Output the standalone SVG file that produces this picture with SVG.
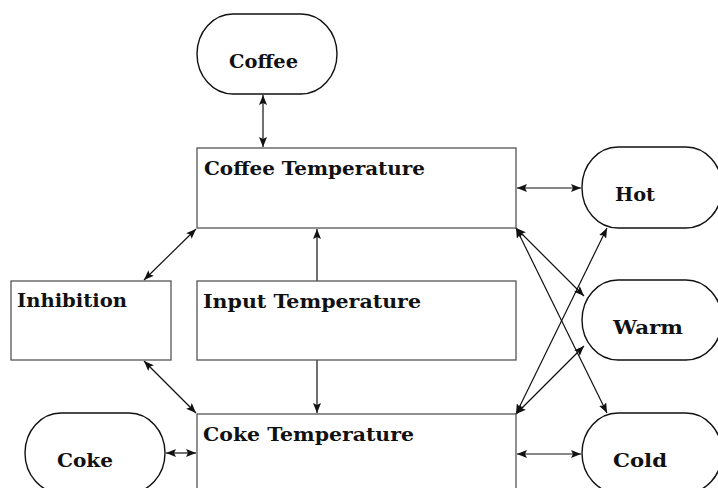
<svg xmlns="http://www.w3.org/2000/svg" width="718" height="488" viewBox="0 0 718 488">
<style>
.box{fill:#fff;stroke:#555;stroke-width:1.3}
.oval{fill:#fff;stroke:#111;stroke-width:1.4}
.t{font-family:"DejaVu Serif","Liberation Serif",serif;font-weight:bold;font-size:18px;fill:#111}
.c{stroke:#111;stroke-width:1.2;fill:none;marker-start:url(#a);marker-end:url(#a)}
.s{stroke:#111;stroke-width:1.2;fill:none;marker-end:url(#a)}
</style>
<defs>
<marker id="a" viewBox="0 0 10 8" refX="10" refY="4" markerWidth="10" markerHeight="8" markerUnits="userSpaceOnUse" orient="auto-start-reverse">
<path d="M0,0 L10,4 L0,8 L2,4 Z" fill="#111"/>
</marker>
</defs>
<rect width="718" height="488" fill="#fff"/>
<g id="connectors">
<line class="c" x1="263" y1="95" x2="263" y2="147"/>
<line class="c" x1="517" y1="188" x2="581" y2="188"/>
<line class="c" x1="166" y1="453" x2="196" y2="453"/>
<line class="c" x1="517" y1="454" x2="581" y2="454"/>
<line class="c" x1="144" y1="280" x2="196" y2="229"/>
<line class="c" x1="144" y1="361" x2="196" y2="413"/>
<line class="s" x1="317" y1="281" x2="317" y2="229"/>
<line class="s" x1="317" y1="360" x2="317" y2="413"/>
<line class="c" x1="516" y1="228" x2="584" y2="296"/>
<line class="c" x1="516" y1="228" x2="607" y2="413"/>
<line class="c" x1="516" y1="414" x2="607" y2="228"/>
<line class="c" x1="516" y1="414" x2="584" y2="346"/>
</g>
<g id="coffee">
<rect class="oval" x="197" y="14" width="140" height="80" rx="36" ry="40"/>
<text class="t" x="229" y="68" textLength="69" lengthAdjust="spacingAndGlyphs">Coffee</text>
</g>
<g id="coffee-temperature">
<rect class="box" x="197" y="148" width="319" height="80"/>
<text class="t" x="204" y="175" textLength="221" lengthAdjust="spacingAndGlyphs">Coffee Temperature</text>
</g>
<g id="inhibition">
<rect class="box" x="11" y="281" width="160" height="79"/>
<text class="t" x="17" y="307" textLength="110" lengthAdjust="spacingAndGlyphs">Inhibition</text>
</g>
<g id="input-temperature">
<rect class="box" x="197" y="281" width="319" height="79"/>
<text class="t" x="203" y="308" textLength="218" lengthAdjust="spacingAndGlyphs">Input Temperature</text>
</g>
<g id="coke-temperature">
<rect class="box" x="197" y="414" width="319" height="80"/>
<text class="t" x="203" y="441" textLength="211" lengthAdjust="spacingAndGlyphs">Coke Temperature</text>
</g>
<g id="coke">
<rect class="oval" x="25" y="413" width="140" height="80" rx="36" ry="40"/>
<text class="t" x="57" y="467" textLength="56" lengthAdjust="spacingAndGlyphs">Coke</text>
</g>
<g id="hot">
<rect class="oval" x="582" y="147" width="140" height="81" rx="36" ry="40"/>
<text class="t" x="615" y="201" textLength="40" lengthAdjust="spacingAndGlyphs">Hot</text>
</g>
<g id="warm">
<rect class="oval" x="582" y="280" width="140" height="80" rx="36" ry="40"/>
<text class="t" x="613" y="334" textLength="70" lengthAdjust="spacingAndGlyphs">Warm</text>
</g>
<g id="cold">
<rect class="oval" x="582" y="413" width="140" height="80" rx="36" ry="40"/>
<text class="t" x="613" y="467" textLength="54" lengthAdjust="spacingAndGlyphs">Cold</text>
</g>
</svg>
